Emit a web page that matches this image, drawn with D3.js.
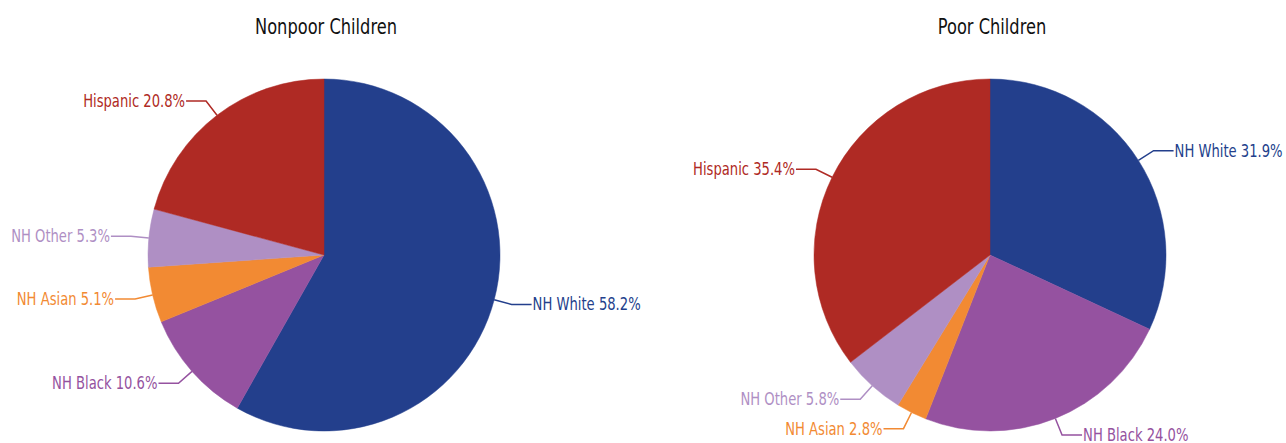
<!DOCTYPE html>
<html>
<head>
<meta charset="utf-8">
<script src="https://cdn.jsdelivr.net/npm/d3@7"></script>
<style>
  body { margin: 0; background: #fff; }
  svg text { font-family: "DejaVu Sans Condensed", "DejaVu Sans", sans-serif; }
</style>
</head>
<body>
<svg id="chart"></svg>
<script>
// Groups in drawing order (clockwise from 12 o'clock)
let groups = ['NH White', 'NH Black', 'NH Asian', 'NH Other', 'Hispanic'];
let groupColors = ['#233f8c', '#9552a0', '#f28a33', '#af8fc4', '#af2a24'];

// Shares in percent
let nonpoorValues = [58.2, 10.6, 5.1, 5.3, 20.8];
let poorValues = [31.9, 24.0, 2.8, 5.8, 35.4];

let chartTitles = ['Nonpoor Children', 'Poor Children'];

let width = 1286;
let height = 443;
let squeeze = 0.86; // narrows the condensed font towards the original narrow face

let svg = d3.select('#chart').attr('width', width).attr('height', height);

let color = d3.scaleOrdinal().domain(groups).range(groupColors);

drawPie(nonpoorValues, chartTitles[0], 324, 255);
drawPie(poorValues, chartTitles[1], 990, 255);

function drawPie(values, title, cx, cy) {
	let radius = 176;
	let elbow = 18; // how far the connector leaves the pie
	let arm = 20;   // horizontal piece of the connector

	let data = groups.map((g, i) => ({ group: g, value: values[i] }));
	let pie = d3.pie().sort(null).value((d) => d.value);
	let arc = d3.arc().innerRadius(0).outerRadius(radius);

	let g = svg.append('g').attr('transform', `translate(${cx}, ${cy})`);

	g.selectAll('path.slice')
		.data(pie(data))
		.enter()
		.append('path')
		.attr('class', 'slice')
		.attr('d', arc)
		.attr('fill', (d) => color(d.data.group))
		.attr('stroke', (d) => color(d.data.group))
		.attr('stroke-width', 0.5);

	// point on a circle for a given angle (d3 angles: 0 at top, clockwise)
	let at = (a, r) => [Math.sin(a) * r, -Math.cos(a) * r];
	let mid = (d) => (d.startAngle + d.endAngle) / 2;
	let side = (d) => (Math.sin(mid(d)) >= 0 ? 1 : -1);

	let labels = g.selectAll('g.label').data(pie(data)).enter().append('g').attr('class', 'label');

	labels.append('polyline')
		.attr('fill', 'none')
		.attr('stroke', (d) => color(d.data.group))
		.attr('stroke-width', 1.5)
		.attr('points', (d) => {
			let p0 = at(mid(d), radius);
			let p1 = at(mid(d), radius + elbow);
			let p2 = [p1[0] + side(d) * arm, p1[1]];
			return [p0, p1, p2].map((p) => p.join(',')).join(' ');
		});

	labels.append('text')
		.attr('transform', (d) => {
			let p = at(mid(d), radius + elbow);
			return `translate(${p[0] + side(d) * (arm + 1)}, ${p[1]}) scale(${squeeze}, 1)`;
		})
		.attr('dy', '0.35em')
		.attr('text-anchor', (d) => (side(d) > 0 ? 'start' : 'end'))
		.attr('font-size', 17)
		.attr('fill', (d) => color(d.data.group))
		.text((d) => `${d.data.group} ${d.data.value.toFixed(1)}%`);

	svg.append('text')
		.attr('transform', `translate(${cx + 2}, 34) scale(${squeeze}, 1)`)
		.attr('text-anchor', 'middle')
		.attr('font-size', 21)
		.attr('fill', '#111')
		.text(title);
}
</script>
</body>
</html>
